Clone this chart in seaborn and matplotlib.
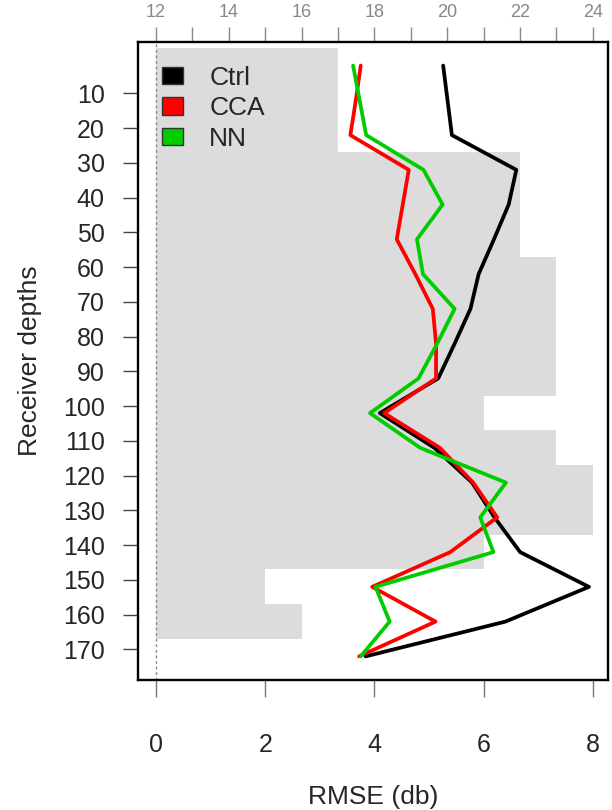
import numpy as np
import pandas as pd
import matplotlib
matplotlib.use("Agg")
import matplotlib.pyplot as plt
import seaborn as sns
from matplotlib.patches import Patch

# receiver depths of the model points
depths = [2, 12, 22, 32, 42, 52, 62, 72, 82, 92, 102, 112, 122, 132, 142, 152, 162, 172]
ctrl = [5.26, 5.34, 5.42, 6.60, 6.46, 6.19, 5.91, 5.76, 5.47, 5.17, 4.10, 5.10, 5.79, 6.20, 6.67, 7.93, 6.40, 3.84]
cca = [3.75, 3.66, 3.56, 4.63, 4.52, 4.41, 4.75, 5.07, 5.13, 5.13, 4.18, 5.20, 5.81, 6.25, 5.39, 3.96, 5.12, 3.72]
nn = [3.61, 3.73, 3.85, 4.90, 5.25, 4.78, 4.89, 5.47, 5.15, 4.81, 3.92, 4.84, 6.41, 5.94, 6.18, 4.02, 4.28, 3.75]

# gray background profile, read on the top axis (12-24)
gray_depths = [2, 12, 22, 32, 42, 52, 62, 72, 82, 92, 102, 112, 122, 132, 142, 152, 162]
gray_top = [17, 17, 17, 22, 22, 22, 23, 23, 23, 23, 21, 23, 24, 24, 21, 15, 16]

models = ["Ctrl", "CCA", "NN"]
colors = {"Ctrl": "black", "CCA": "#FF0000", "NN": "#00CC00"}

ytick_vals = list(range(10, 171, 10))
xtick_vals = [0, 2, 4, 6, 8]
top_ticks = list(range(12, 25, 2))


def to_top(x):
    return 12 + 1.5 * x


def from_top(t):
    return (t - 12) / 1.5


df = pd.DataFrame({
    "depth": depths * 3,
    "rmse": ctrl + cca + nn,
    "model": ["Ctrl"] * len(depths) + ["CCA"] * len(depths) + ["NN"] * len(depths),
})

sns.set_style("white")
plt.rcParams["font.family"] = ["Liberation Sans", "DejaVu Sans"]

fig = plt.figure(figsize=(6.12, 8.10), dpi=100)
ax = fig.add_axes([0.2255, 0.1605, 0.768, 0.7877])

ax.barh(gray_depths, [from_top(g) for g in gray_top], height=10, left=0,
        color="#DCDCDC", edgecolor="none", zorder=0)
ax.axvline(0, color="#888888", linestyle=(0, (2, 2)), linewidth=1, zorder=1)

sns.lineplot(data=df, x="rmse", y="depth", hue="model", palette=colors,
             hue_order=models, orient="y", linewidth=2.7, legend=False, ax=ax, zorder=3)

ax.set_xlim(-0.33, 8.28)
ax.set_ylim(178.8, -4.8)
ax.set_yticks(ytick_vals)
ax.set_xticks(xtick_vals)
ax.tick_params(axis="y", left=True, length=11, width=1, color="#444444", pad=13, labelsize=18)
ax.tick_params(axis="x", bottom=True, length=12, width=1, color="#777777", pad=26, labelsize=18)
for s in ax.spines.values():
    s.set_linewidth(1.7)
    s.set_color("black")

top = ax.secondary_xaxis("top", functions=(to_top, from_top))
top.set_xticks(top_ticks)
top.set_xticks(list(range(13, 24, 2)), minor=True)
top.tick_params(which="both", length=11, width=1, color="#888888", labelcolor="#888888",
                pad=4, labelsize=13)
top.spines["top"].set_visible(False)

ax.set_xlabel("RMSE (db)", fontsize=19, labelpad=20)
ax.set_ylabel("Receiver depths", fontsize=19, labelpad=15)

handles = [Patch(facecolor=colors[m], edgecolor="#333333", label=m) for m in models]
ax.legend(handles=handles, loc="upper left", frameon=False, fontsize=19,
          handlelength=0.8, handleheight=0.65, handletextpad=1.0, labelspacing=0.25,
          borderaxespad=0.5)

fig.savefig("out.png", dpi=100)
